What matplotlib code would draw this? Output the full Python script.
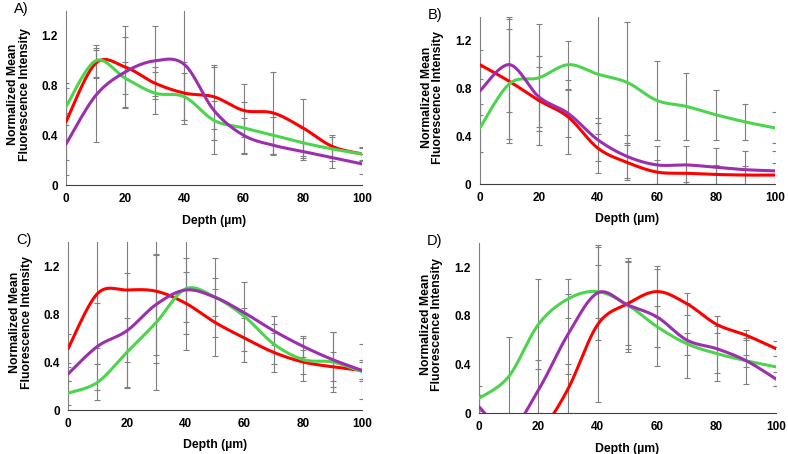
import numpy as np
import matplotlib
matplotlib.use("Agg")
from matplotlib import pyplot as plt

plt.rcParams['font.family'] = ['Liberation Sans', 'DejaVu Sans']

depth = [0, 10, 20, 30, 40, 50, 60, 70, 80, 90, 100]

# panel A
a_red = [0.51, 0.98, 0.95, 0.82, 0.74, 0.71, 0.60, 0.58, 0.46, 0.31, 0.25]
a_red_err = [0.31, 0.12, 0.33, 0.13, 0.25, 0.26, 0.21, 0.33, 0.23, 0.09, 0.06]
a_green = [0.63, 1.00, 0.86, 0.74, 0.71, 0.52, 0.46, 0.40, 0.34, 0.29, 0.25]
a_green_err = [0.15, 0.13, 0.13, 0.17, 0.19, 0.16, 0.21, 0.15, 0.12, 0.10, 0.05]
a_purple = [0.33, 0.72, 0.91, 1.00, 0.97, 0.60, 0.40, 0.32, 0.27, 0.22, 0.17]
a_purple_err = [0.25, 0.37, 0.28, 0.28, 0.45, 0.35, 0.14, 0.08, 0.07, 0.08, 0.08]

# panel B
b_red = [1.00, 0.86, 0.70, 0.56, 0.30, 0.18, 0.10, 0.09, 0.08, 0.075, 0.075]
b_red_err = [0.12, 0.52, 0.37, 0.31, 0.21, 0.15, 0.10, 0.07, 0.08, 0.08, 0.10]
b_green = [0.47, 0.84, 0.89, 1.00, 0.92, 0.85, 0.70, 0.65, 0.58, 0.52, 0.47]
b_green_err = [0.20, 0.46, 0.45, 0.20, 0.50, 0.51, 0.33, 0.28, 0.21, 0.15, 0.13]
b_purple = [0.78, 1.00, 0.73, 0.59, 0.37, 0.23, 0.16, 0.16, 0.14, 0.12, 0.11]
b_purple_err = [0.20, 0.40, 0.25, 0.20, 0.18, 0.18, 0.16, 0.16, 0.16, 0.16, 0.17]

# panel C
c_red = [0.51, 0.97, 1.00, 0.99, 0.89, 0.73, 0.60, 0.48, 0.40, 0.36, 0.33]
c_red_err = [0.12, 0.45, 0.60, 0.60, 0.26, 0.28, 0.20, 0.16, 0.10, 0.12, 0.07]
c_green = [0.14, 0.23, 0.48, 0.73, 1.01, 0.94, 0.78, 0.55, 0.42, 0.40, 0.32]
c_green_err = [0.10, 0.15, 0.29, 0.56, 0.51, 0.16, 0.29, 0.17, 0.18, 0.25, 0.23]
c_purple = [0.30, 0.53, 0.66, 0.88, 1.00, 0.94, 0.81, 0.66, 0.53, 0.42, 0.33]
c_purple_err = [0.06, 0.36, 0.48, 0.42, 0.27, 0.33, 0.04, 0.12, 0.09, 0.23, 0.09]

# panel D
d_red = [-0.60, -0.55, -0.20, 0.20, 0.73, 0.90, 1.00, 0.90, 0.73, 0.64, 0.53]
d_red_err = [0.10, 0.10, 0.10, 0.20, 0.64, 0.34, 0.21, 0.09, 0.07, 0.04, 0.06]
d_green = [0.12, 0.30, 0.73, 0.94, 1.00, 0.89, 0.71, 0.57, 0.49, 0.43, 0.38]
d_green_err = [0.10, 0.33, 0.37, 0.16, 0.22, 0.36, 0.17, 0.09, 0.23, 0.05, 0.16]
d_purple = [0.05, -0.15, 0.19, 0.65, 0.99, 0.89, 0.79, 0.60, 0.53, 0.43, 0.28]
d_purple_err = [0.10, 0.10, 0.25, 0.33, 0.39, 0.39, 0.40, 0.31, 0.20, 0.19, 0.06]

panels = [
    ("A)", [0.0838, 0.5925, 0.3756, 0.383],
     [(a_red, a_red_err), (a_green, a_green_err), (a_purple, a_purple_err)]),
    ("B)", [0.609, 0.5947, 0.3744, 0.368],
     [(b_red, b_red_err), (b_green, b_green_err), (b_purple, b_purple_err)]),
    ("C)", [0.0863, 0.0969, 0.3731, 0.370],
     [(c_red, c_red_err), (c_green, c_green_err), (c_purple, c_purple_err)]),
    ("D)", [0.6079, 0.0903, 0.3769, 0.3744],
     [(d_red, d_red_err), (d_green, d_green_err), (d_purple, d_purple_err)]),
]
colors = ['#ff0000', '#4dd44d', '#9b2fae']


def smooth(x, y, n=30):
    # excel-like smoothed line (bezier through the points)
    x = np.asarray(x, float)
    y = np.asarray(y, float)
    px = np.concatenate([[x[0]], x, [x[-1]]])
    py = np.concatenate([[y[0]], y, [y[-1]]])
    t = np.linspace(0, 1, n)
    xs, ys = [], []
    for i in range(1, len(px) - 2):
        p0 = np.array([px[i], py[i]])
        p3 = np.array([px[i + 1], py[i + 1]])
        c1 = p0 + (p3 - np.array([px[i - 1], py[i - 1]])) / 6
        c2 = p3 - (np.array([px[i + 2], py[i + 2]]) - p0) / 6
        b = ((1 - t) ** 3)[:, None] * p0 + (3 * (1 - t) ** 2 * t)[:, None] * c1 \
            + (3 * (1 - t) * t ** 2)[:, None] * c2 + (t ** 3)[:, None] * p3
        xs.append(b[:, 0])
        ys.append(b[:, 1])
    return np.concatenate(xs), np.concatenate(ys)


fig = plt.figure(figsize=(7.88, 4.54), dpi=100)

for label, pos, series in panels:
    ax = fig.add_axes(pos)
    for (vals, errs), col in zip(series, colors):
        ax.errorbar(depth, vals, yerr=errs, fmt='none', ecolor='#7f7f7f',
                    elinewidth=0.8, capsize=2, capthick=0.8, zorder=1)
    for (vals, errs), col in zip(series, colors):
        sx, sy = smooth(depth, vals)
        ax.plot(sx, sy, c=col, lw=2.2, zorder=3, solid_capstyle='round')
    ax.set_xlim(0, 100)
    ax.set_ylim(0, 1.4)
    ax.set_xticks([0, 20, 40, 60, 80, 100])
    ax.set_yticks([0, 0.4, 0.8, 1.2])
    ax.set_yticklabels(['0', '0.4', '0.8', '1.2'])
    ax.tick_params(axis='both', length=0, labelsize=8.5, pad=6)
    for t in ax.get_xticklabels() + ax.get_yticklabels():
        t.set_fontweight('bold')
    for s in ['top', 'right']:
        ax.spines[s].set_visible(False)
    ax.spines['left'].set_color('#808080')
    ax.spines['bottom'].set_color('#404040')
    ax.set_xlabel('Depth (µm)', fontsize=8.8, fontweight='bold')
    ax.xaxis.set_label_coords(0.5, -0.175)
    ax.set_ylabel('Normalized Mean\nFluorescence Intensity', fontsize=8.8,
                  fontweight='bold', linespacing=0.95)
    ax.yaxis.set_label_coords(-0.12, 0.52)
    bb = ax.get_position()
    fig.text(bb.x0 - 0.066, bb.y1 + 0.004, label, fontsize=10.5, va='center')

plt.savefig('out.png', dpi=100)
